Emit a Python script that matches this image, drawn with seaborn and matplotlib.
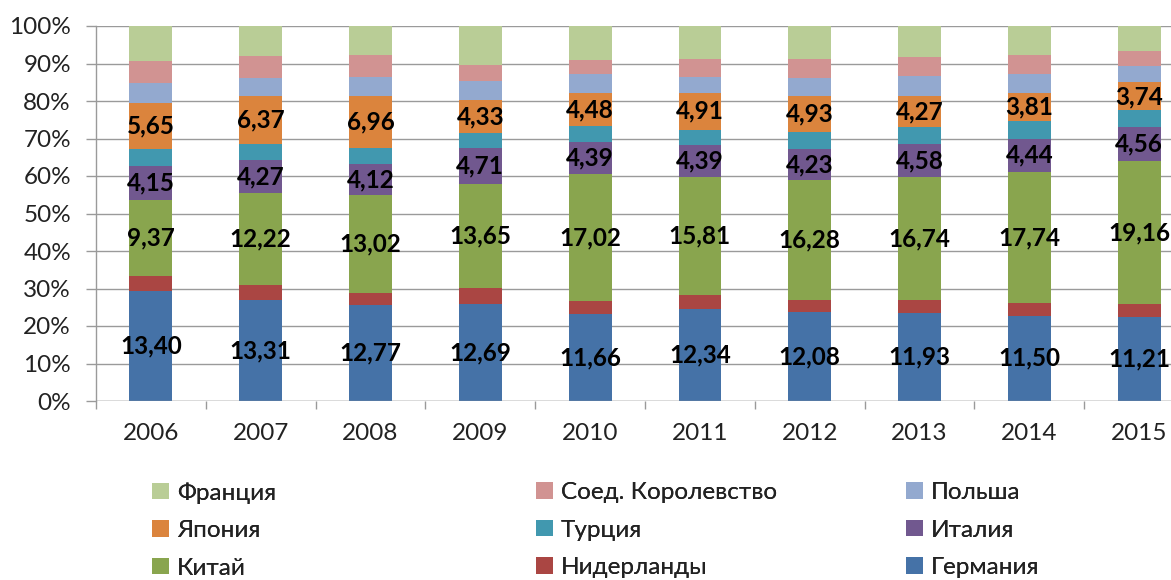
import numpy as np
import pandas as pd
import matplotlib
matplotlib.use("Agg")
import matplotlib.pyplot as plt
import seaborn as sns
from matplotlib.patches import Patch
from matplotlib.ticker import FixedLocator, PercentFormatter

years = ["2006", "2007", "2008", "2009", "2010", "2011", "2012", "2013", "2014", "2015"]

germany     = [13.40, 13.31, 12.77, 12.69, 11.66, 12.34, 12.08, 11.93, 11.50, 11.21]
netherlands = [1.83, 1.98, 1.70, 2.16, 1.87, 1.91, 1.70, 1.73, 1.67, 1.70]
china       = [9.37, 12.22, 13.02, 13.65, 17.02, 15.81, 16.28, 16.74, 17.74, 19.16]
italy       = [4.15, 4.27, 4.12, 4.71, 4.39, 4.39, 4.23, 4.58, 4.44, 4.56]
turkey      = [2.06, 2.18, 2.15, 1.86, 2.07, 2.01, 2.30, 2.24, 2.42, 2.20]
japan       = [5.65, 6.37, 6.96, 4.33, 4.48, 4.91, 4.93, 4.27, 3.81, 3.74]
poland      = [2.43, 2.38, 2.55, 2.50, 2.58, 2.21, 2.47, 2.65, 2.58, 2.15]
uk          = [2.66, 2.82, 2.90, 2.16, 1.87, 2.41, 2.60, 2.55, 2.53, 2.05]
france      = [4.30, 4.00, 3.85, 5.10, 4.60, 4.38, 4.47, 4.28, 3.89, 3.35]

series_names = ["Германия", "Нидерланды", "Китай", "Италия", "Турция",
                "Япония", "Польша", "Соед. Королевство", "Франция"]
series_vals = [germany, netherlands, china, italy, turkey, japan, poland, uk, france]
colors = ["#4572A7", "#AA4643", "#89A54E", "#71588F", "#4198AF",
          "#DB843D", "#93A9CF", "#D19392", "#B9CD96"]
labelled = {"Германия", "Китай", "Италия", "Япония"}

sns.set_theme(style="white")
plt.rcParams['font.family'] = ['Lato', 'DejaVu Sans']

FS = 17.5

vals = np.array(series_vals, dtype=float)
totals = vals.sum(axis=0)
pct = vals / totals * 100
cum = np.cumsum(pct, axis=0)
bottoms = cum - pct

fig = plt.figure(figsize=(11.71, 5.80), dpi=100)
ax = fig.add_axes([96/1171, 1 - 401/580, 1 - 96/1171, (401 - 26)/580])

grid_c = "#9a9a9a"
for k in range(0, 110, 10):
    ax.axhline(k, color=grid_c, lw=1.0, zorder=0)

for i in range(len(series_names) - 1, -1, -1):
    df = pd.DataFrame({"year": years, "v": cum[i]})
    sns.barplot(data=df, x="year", y="v", order=years, color=colors[i],
                saturation=1, width=0.39, linewidth=0, edgecolor="none",
                errorbar=None, ax=ax, zorder=2)

for i, name in enumerate(series_names):
    if name in labelled:
        for j in range(len(years)):
            y = bottoms[i, j] + pct[i, j] / 2
            ax.text(j, y, f"{vals[i, j]:.2f}".replace(".", ","), ha="center",
                    va="center", fontsize=FS, fontweight="bold", color="black",
                    zorder=5)

ax.set_ylim(0, 100)
ax.set_xlim(-0.5, 9.29)
ax.yaxis.set_major_locator(FixedLocator(range(0, 110, 10)))
ax.yaxis.set_major_formatter(PercentFormatter(decimals=0))
ax.set_xlabel("")
ax.set_ylabel("")
for s in ["top", "right", "bottom"]:
    ax.spines[s].set_visible(False)
ax.spines["left"].set_color(grid_c)
ax.spines["left"].set_linewidth(1.0)
ax.spines["left"].set_zorder(1)

ax.tick_params(axis="y", which="major", length=7, width=1, color=grid_c,
               labelsize=FS, pad=11, left=True, labelcolor="#222222")
ax.tick_params(axis="x", which="major", length=0, labelsize=FS, pad=16,
               labelcolor="#222222")
ax.xaxis.set_minor_locator(FixedLocator([k + 0.5 for k in range(-1, 9)]))
ax.tick_params(axis="x", which="minor", length=6, width=1, color=grid_c,
               bottom=True)
ax.axhline(0, color=grid_c, lw=1.0, zorder=3)

# legend: three columns, rows read France, UK, Poland / Japan, Turkey, Italy / China, Netherlands, Germany
rev = list(range(len(series_names) - 1, -1, -1))
columns = [[rev[0], rev[3], rev[6]], [rev[1], rev[4], rev[7]], [rev[2], rev[5], rev[8]]]
col_x = [152, 536, 906]
for cx, idxs in zip(col_x, columns):
    handles = [Patch(facecolor=colors[i], edgecolor="none") for i in idxs]
    labels = [series_names[i] for i in idxs]
    leg = fig.legend(handles, labels, ncol=1, loc="upper left",
                     bbox_to_anchor=(cx/1171, 1 - 482/580), frameon=False,
                     fontsize=FS, handlelength=0.68, handleheight=0.68,
                     handletextpad=0.35, labelspacing=0.68,
                     borderaxespad=0, borderpad=0, labelcolor="#222222")
    fig.add_artist(leg)

fig.savefig("out.png", dpi=100)
